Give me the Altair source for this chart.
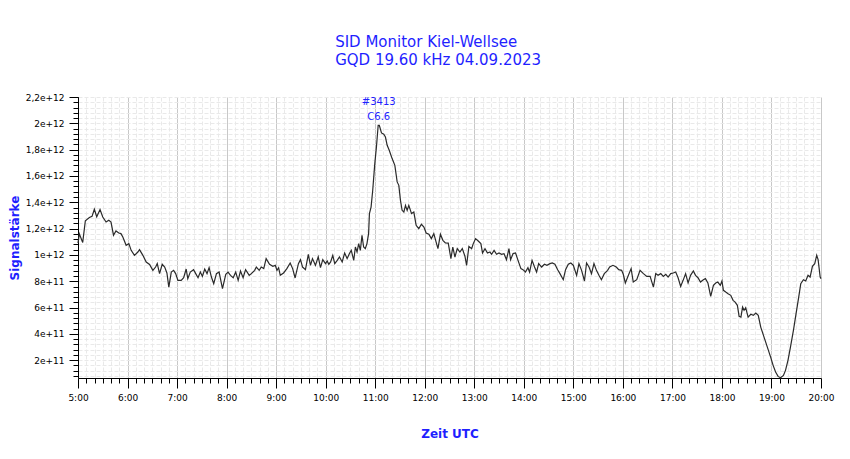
import altair as alt
import pandas as pd

# ---- data (minutes after 05:00 UTC, signal in units of 1e11) ----
minutes = [
    0, 1.6, 5.7, 8.9, 13.8, 17, 19.8, 22.7, 26.7, 30, 34, 37.3, 40, 43, 46, 49.4, 52, 54.3, 58.3,
    61.6, 64.4, 68.4, 72.5, 74.5, 78.6, 82.6, 86.7, 90.7, 94, 96, 98.8, 102, 105, 107.7, 110, 113,
    115.8, 118.3, 121, 125, 128, 131, 133, 136, 140, 142.6, 145.4, 148.2, 150.7, 153.5, 156.3, 158.8,
    161.6, 164.4, 167.7, 170.9, 175, 179, 181.8, 184.7, 188, 191, 194, 196.8, 200, 203, 207.4, 210,
    214, 216, 219.5, 222, 225,
    227.9, 232, 236, 239, 241, 243, 245, 249, 253, 257, 260, 263, 267, 269.5, 272, 275.5, 279, 281.6,
    284, 287.6, 291, 293.7, 296.5, 299.8, 301.8, 303.8, 306, 308.6, 311, 314, 316.7, 320, 323, 326,
    328.8, 331, 334, 336, 338, 340, 342, 344, 346, 348, 350, 352, 353, 355, 357, 359.5, 361.5, 363.6,
    365, 367.6, 370.4, 372.4, 374.5, 377, 380.5, 383.8, 386.6, 388.6, 390.6, 392.6, 394.7, 396.7,
    398.7, 400.7, 404, 406.8, 409.6, 412.8, 416, 419, 421.7, 425, 428, 431, 433.8, 436, 439, 442, 445,
    448.5, 451.7, 454, 456.6, 459.4, 462.6, 465.5, 468.7, 470.7, 473.5, 476.8, 478.8, 481.6, 484.8,
    488, 490, 493, 496, 499, 501, 504, 507, 510, 513, 516, 519, 522, 524, 527, 530, 533, 536.5, 539,
    542, 545, 547, 550, 553, 555.5, 558, 561.6, 565, 568, 571.7, 574.5, 577.7, 581, 583.8, 587.8,
    590.6, 593.9, 597, 600, 604, 606.8, 610, 613.5, 616, 619, 622, 625, 628, 631, 634, 637.5, 641.5,
    644, 648, 652, 655, 658.5, 660.5, 663, 666.7, 670, 672.6,
    676.8, 680.8, 684.9, 689, 693, 697, 699.8, 702.6, 705.9, 709, 712, 714.8, 718, 721, 724, 726.9,
    730, 733, 736, 739, 742, 745.4, 748, 751, 754, 757.5, 760, 763, 766.4, 769.7, 772.5, 775, 778,
    780, 781.8, 784.6, 787.4, 790.7, 793.5, 796, 798.7, 800.8, 803, 805, 806.8, 808.8, 811.7, 815,
    818, 821, 824, 827, 831, 835, 839, 842, 845, 848, 851, 854.5, 857, 860, 863, 866.6, 869.8, 873,
    875.5, 878.7, 881.5, 884.3, 886.8, 889.6, 892.4, 894.8, 896.5, 899, 900,
]
signal_e11 = [
    10.9, 11.6, 10.95, 12.6, 12.84, 12.93, 13.47, 12.9, 13.45, 12.88, 12.5, 12.63, 12.5, 11.5, 11.82,
    11.67, 11.62, 11.36, 10.73, 10.86, 10.35, 9.97, 10.22, 10.4, 9.97, 9.46, 9.28, 8.83, 9.08, 9.34,
    8.58, 9.29, 9.08, 8.63, 7.56, 8.7, 8.83, 8.58, 8.07, 8.07, 8.27, 8.93, 8.2, 8.7, 8.88, 8.58, 8.27,
    8.7, 8.37, 8.93, 8.58, 9.04, 8.32, 7.82, 8.58, 8.7, 7.44, 8.53, 8.7, 8.45, 8.27, 8.7, 8.07, 8.78,
    8.27, 8.88, 8.45, 8.58, 8.83, 9.08, 8.83, 9.08, 8.96,
    9.72, 9.29, 9.14, 9.21, 8.83, 9.03, 8.45, 8.63, 8.96, 9.39, 8.96, 8.25, 9.34, 9.64, 9.08, 8.88,
    10.05, 9.21, 9.72, 9.21, 9.85, 9.03, 9.64, 9.34, 9.54, 9.29, 9.47, 9.97, 9.34, 9.59, 9.85, 9.47,
    10.15, 9.72, 10.1, 10.35, 9.59, 10.6, 10.23, 10.86, 10.35, 11.49, 10.6, 10.48, 10.86, 11.62,
    13.14, 13.64, 14.91, 16.94, 18.2, 19.85, 19.85, 19.27, 19.17, 18.96, 18.33, 17.95, 17.32, 16.81,
    15.55, 15.29, 14.15, 13.39, 13.26, 13.77, 13.39, 13.77, 13.14, 13.26, 12.25, 12.0, 12.33, 12.12,
    11.67, 11.57, 11.24, 11.62, 10.98, 10.48, 11.57, 11.11, 10.91,
    10.9, 9.72, 10.6, 9.84, 10.48, 10.22, 10.48, 9.9, 9.21, 10.65, 10.48, 10.86, 11.24, 11.06, 10.86,
    10.15, 10.48, 10.15, 10.22, 10.05, 10.35, 10.05, 10.15, 10.05, 10.1, 9.64, 10.48, 9.64, 10.1,
    10.15, 9.59, 8.96, 8.88, 8.7, 9.03, 8.7, 9.59, 9.08, 8.7, 9.34, 9.08, 9.29, 9.21, 9.34, 9.39,
    9.29, 8.88, 8.58, 8.12, 8.88, 9.29, 9.39, 9.21, 8.45, 9.34, 8.83, 8.02, 9.39, 9.08, 8.58, 9.34,
    8.83, 8.45, 8.12, 8.58, 8.83, 9.08, 9.21, 9.08, 8.88, 8.83, 8.53, 7.87, 8.45, 8.96, 7.94,
    8.12, 8.83, 8.58, 8.37, 8.37, 7.56, 8.58, 8.45, 8.58, 8.37, 8.53, 8.32, 8.58, 8.63, 8.7, 8.27,
    7.61, 8.07, 8.58, 7.87, 8.45, 8.78, 8.45, 8.27, 7.94, 8.12, 8.2, 7.87, 6.85, 7.69, 7.87, 7.94,
    7.69, 8.02, 7.31, 7.18, 7.06, 6.93, 6.55, 6.42, 6.17, 5.34, 5.28, 6.04, 5.79, 5.99, 5.28, 5.49,
    5.41, 5.59, 5.41, 4.52, 3.76, 3.0, 2.24, 1.61, 1.1, 0.77, 0.67, 0.85, 1.23, 1.99, 3.0, 4.27,
    5.54, 6.8, 7.82, 8.12, 8.02, 8.45, 8.32, 9.13, 9.34, 9.97, 9.64, 8.32, 8.2,
]

x_tick_hours = [5, 6, 7, 8, 9, 10, 11, 12, 13, 14, 15, 16, 17, 18, 19, 20]
x_tick_labels = ["5:00", "6:00", "7:00", "8:00", "9:00", "10:00", "11:00", "12:00", "13:00",
                 "14:00", "15:00", "16:00", "17:00", "18:00", "19:00", "20:00"]
y_tick_values = [2e11, 4e11, 6e11, 8e11, 1e12, 1.2e12, 1.4e12, 1.6e12, 1.8e12, 2e12, 2.2e12]
y_tick_labels = ["2e+11", "4e+11", "6e+11", "8e+11", "1e+12", "1,2e+12", "1,4e+12", "1,6e+12",
                 "1,8e+12", "2e+12", "2,2e+12"]
y_domain = [0.65e11, 2.2e12]

title_lines = ["SID Monitor Kiel-Wellsee", "GQD 19.60 kHz 04.09.2023"]
flare_text = "#3413\nC6.6"
flare_minute = 364.3
flare_value_e11 = 19.85

# ---- tables ----
df = pd.DataFrame({
    "hours": [5 + m / 60 for m in minutes],
    "signal": [v * 1e11 for v in signal_e11],
})
ann_df = pd.DataFrame({
    "hours": [5 + flare_minute / 60],
    "signal": [flare_value_e11 * 1e11],
    "label": [flare_text],
})

minor_x = [5 + k / 6 for k in range(0, 91) if k % 6 != 0]
minor_y = [k * 0.4e11 for k in range(2, 56)]


def label_expr(values, labels, tol):
    expr = "''"
    for v, l in reversed(list(zip(values, labels))):
        expr = f"abs(datum.value - {v!r}) < {tol!r} ? '{l}' : ({expr})"
    return expr


BLUE = "#1f1fff"
FONT = "DejaVu Sans"

xscale = alt.Scale(domain=[5, 20], nice=False, zero=False)
yscale = alt.Scale(domain=y_domain, nice=False, zero=False)

major_x = alt.Axis(
    orient="bottom", values=x_tick_hours,
    labelExpr=label_expr(x_tick_hours, x_tick_labels, 0.001),
    tickSize=10, tickColor="black", domainColor="black", domainWidth=1,
    labelColor="black", labelFont=FONT, labelFontSize=9, labelPadding=5,
    labelFlush=False, labelOverlap=False,
    grid=True, gridColor="#c8c8c8", gridWidth=1,
    title="Zeit UTC", titleColor=BLUE, titleFont=FONT, titleFontSize=12,
    titleFontWeight="bold", titlePadding=26,
)
major_y = alt.Axis(
    orient="left", values=y_tick_values,
    labelExpr=label_expr(y_tick_values, y_tick_labels, 1e6),
    tickSize=9, tickColor="black", domainColor="black", domainWidth=1,
    labelColor="black", labelFont=FONT, labelFontSize=9, labelPadding=5,
    labelOverlap=False, labelFlush=False,
    grid=False,
    title="Signalstärke", titleColor=BLUE, titleFont=FONT, titleFontSize=12,
    titleFontWeight="bold", titlePadding=4,
)
minor_x_axis = alt.Axis(
    orient="bottom", values=minor_x, labels=False, tickSize=5, tickColor="black",
    domain=False, grid=True, gridColor="#e9e9e9", gridDash=[4, 2], gridWidth=1, title=None,
)
minor_y_axis = alt.Axis(
    orient="left", values=minor_y, labels=False, tickSize=5, tickColor="black",
    domain=False, grid=True, gridColor="#e9e9e9", gridDash=[4, 2], gridWidth=1, title=None,
)

minor_layer = alt.Chart(df).mark_line(opacity=0).encode(
    x=alt.X("hours:Q", scale=xscale, axis=minor_x_axis),
    y=alt.Y("signal:Q", scale=yscale, axis=minor_y_axis),
)
line_layer = alt.Chart(df).mark_line(color="#2a2a2a", strokeWidth=1.2).encode(
    x=alt.X("hours:Q", scale=xscale, axis=major_x),
    y=alt.Y("signal:Q", scale=yscale, axis=major_y),
)
ann_layer = alt.Chart(ann_df).mark_text(
    color=BLUE, font=FONT, fontSize=10, lineBreak="\n", lineHeight=15,
    baseline="bottom", dy=-18, align="center",
).encode(
    x=alt.X("hours:Q", scale=xscale, axis=None),
    y=alt.Y("signal:Q", scale=yscale, axis=None),
    text="label:N",
)

chart = alt.layer(minor_layer, line_layer, ann_layer).resolve_axis(
    x="independent", y="independent"
).properties(
    width=743, height=281,
    autosize=alt.AutoSizeParams(type="none"),
    padding={"left": 70, "top": 89, "right": 21, "bottom": 70},
    title=alt.TitleParams(
        text=title_lines, anchor="start", dx=327, font=FONT, fontSize=15,
        fontWeight="normal", color=BLUE, lineHeight=18, offset=25,
    ),
    background="white",
).configure_view(strokeWidth=0)

chart.save("out.html", embed_options={"renderer": "svg", "actions": False})
